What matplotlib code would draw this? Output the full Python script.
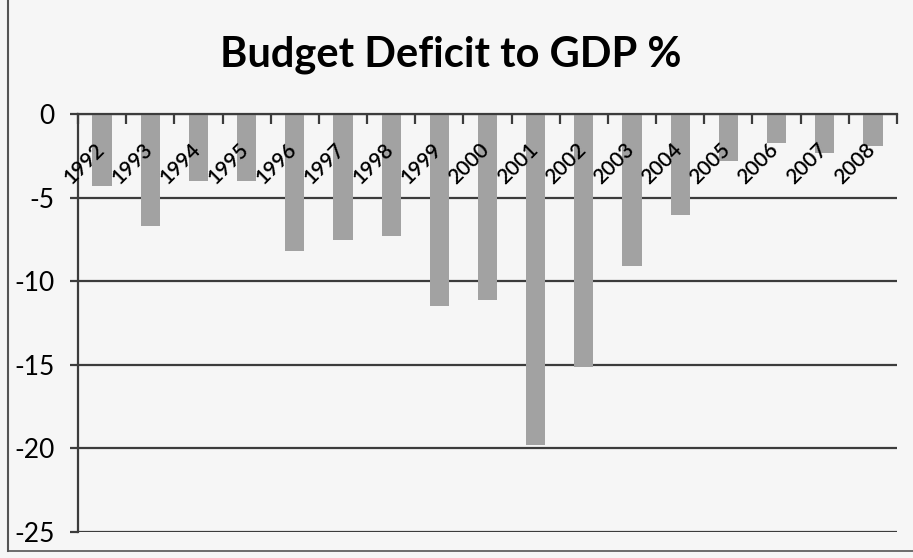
import matplotlib.pyplot as plt
import numpy as np
from matplotlib.transforms import ScaledTranslation

plt.rcParams['font.family'] = ['Lato', 'DejaVu Sans']
plt.rcParams['axes.unicode_minus'] = False

# Data
years = ['1992', '1993', '1994', '1995', '1996', '1997', '1998', '1999', '2000',
         '2001', '2002', '2003', '2004', '2005', '2006', '2007', '2008']
deficit = [-4.3, -6.7, -4.0, -4.0, -8.2, -7.5, -7.3, -11.5, -11.1,
           -19.8, -15.1, -9.1, -6.0, -2.8, -1.7, -2.3, -1.9]

bg = '#f6f6f6'
line_col = '#3c3c3c'

fig = plt.figure(figsize=(9.13, 5.58), dpi=100, facecolor=bg)
ax = fig.add_axes([78 / 913, 1 - 532 / 558, (897 - 78) / 913, (532 - 114.3) / 558])
ax.set_facecolor(bg)

x = np.arange(len(years))
ax.bar(x, deficit, width=0.4, color='#a2a2a2', zorder=3)

ax.set_xlim(-0.5, len(years) - 0.5)
ax.set_ylim(-25, 0)
ax.set_yticks([0, -5, -10, -15, -20, -25])
ax.yaxis.grid(True, color=line_col, linewidth=1.6)

# category axis sits on the zero line (which is also the top of the axes)
for s in ['top', 'right']:
    ax.spines[s].set_visible(False)
ax.spines['bottom'].set_position(('data', 0))
ax.spines['bottom'].set_color(line_col)
ax.spines['bottom'].set_linewidth(1.6)
ax.spines['left'].set_color(line_col)
ax.spines['left'].set_linewidth(1.6)
ax.spines['bottom'].set_zorder(4)
ax.xaxis.set_zorder(5)

ax.set_xticks(x)
ax.set_xticklabels(years, rotation=45, ha='right', va='top', fontsize=15, fontweight='semibold')
ax.set_xticks(np.arange(-0.5, len(years) + 0.5), minor=True)
ax.tick_params(axis='x', which='major', length=0, pad=18)
# boundary ticks hang down from the zero line
ax.tick_params(axis='x', which='minor', direction='in', length=7, width=1.6,
               color=line_col, bottom=False, top=True)
ax.tick_params(axis='y', length=6, width=1.6, color=line_col, labelsize=19, pad=11)
for lab in ax.get_xticklabels():
    lab.set_transform(lab.get_transform() + ScaledTranslation(6 / 100, 0, fig.dpi_scale_trans))

fig.text(451 / 913, 1 - 67 / 558, 'Budget Deficit to GDP %', ha='center', va='baseline',
         fontsize=30, fontweight='bold')

# chart frame edges from the scan
fig.add_artist(plt.Line2D([8 / 913, 8 / 913], [1 - 551 / 558, 1], transform=fig.transFigure,
                          color='#555555', linewidth=1.5))
fig.add_artist(plt.Line2D([8 / 913, 1], [1 - 551 / 558, 1 - 551 / 558], transform=fig.transFigure,
                          color='#555555', linewidth=1.2))

plt.savefig('out.png', dpi=100, facecolor=bg)
